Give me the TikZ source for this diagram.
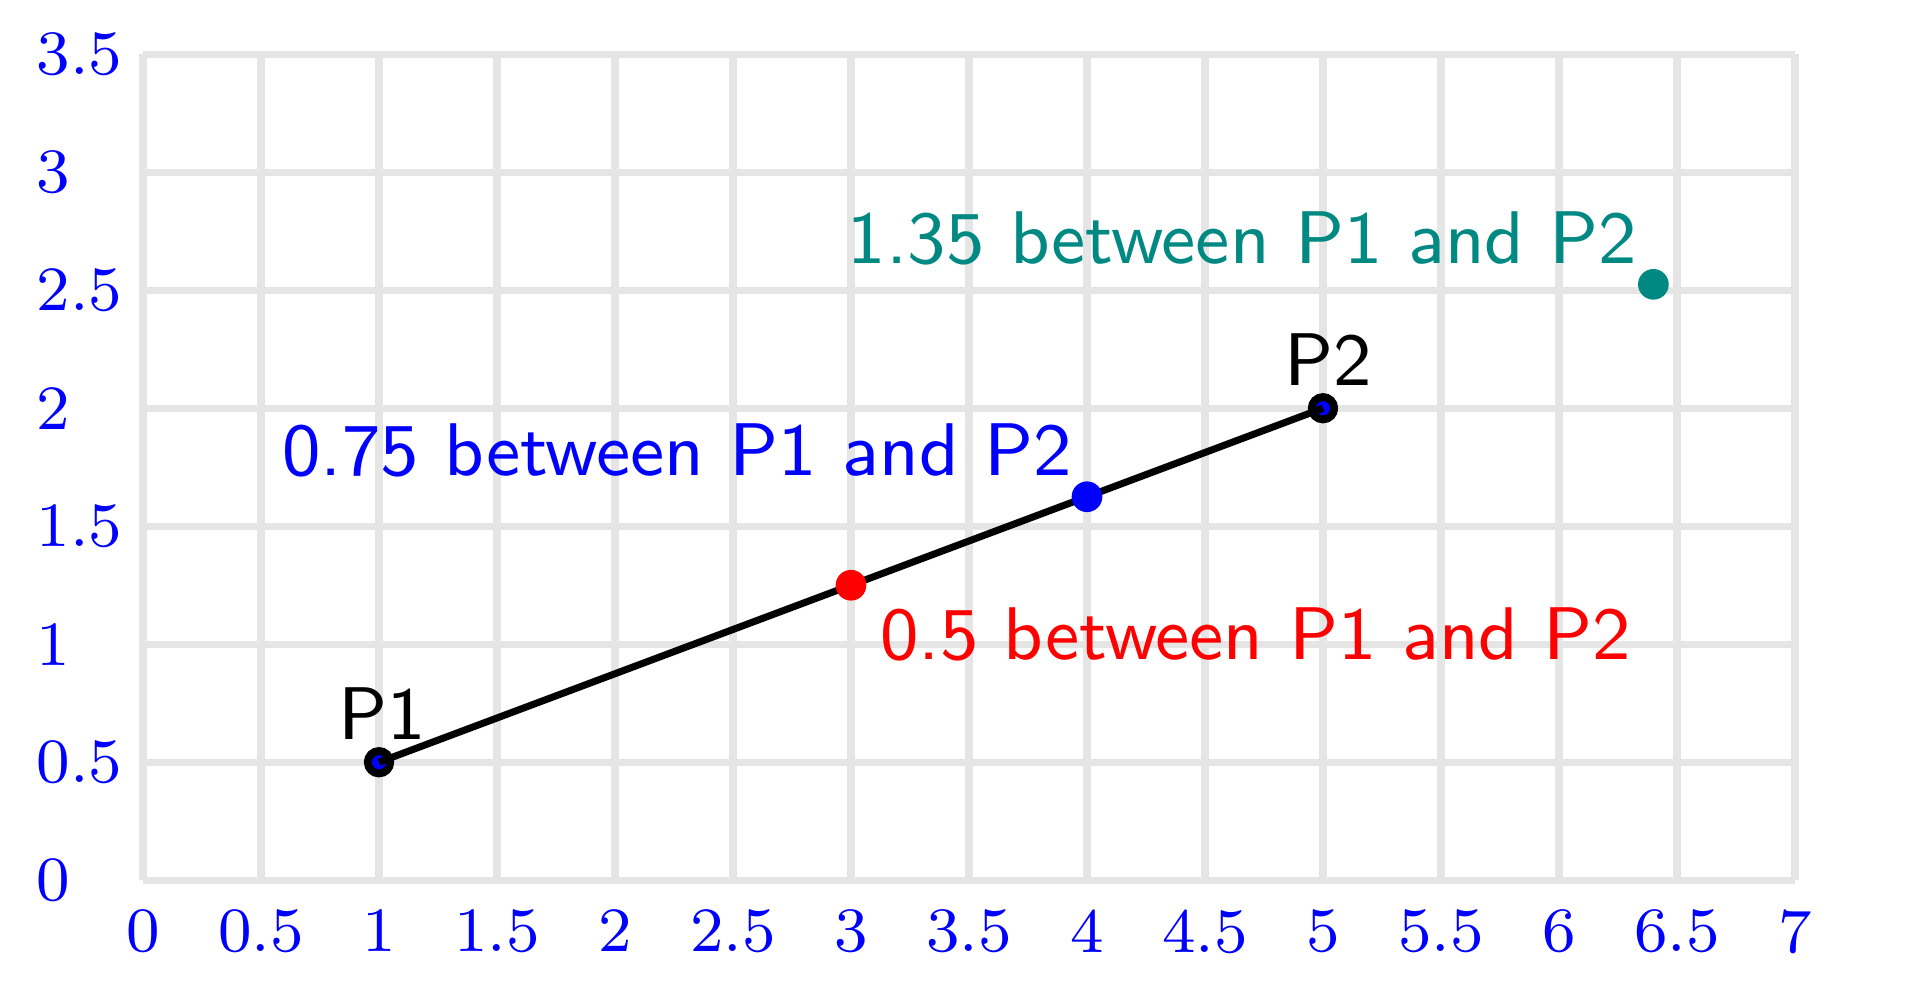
\documentclass[tikz,border=0pt]{standalone}
\usetikzlibrary{calc}
\definecolor{gridgray}{RGB}{229,229,229}
\definecolor{dotteal}{RGB}{0,137,130}
\begin{document}
\begin{tikzpicture}[x=1cm,y=1cm,
  tick/.style={blue,font=\fontsize{7.6}{9}\selectfont},
  lab/.style={font=\small\sffamily},
  pmark/.style={circle,draw=black,fill=blue,line width=0.95pt,inner sep=0pt,minimum size=2.7pt},
  dot/.style={circle,inner sep=0pt,minimum size=3.7pt}]
\useasboundingbox (-0.606,-0.435) rectangle (7.479,3.730);
\draw[gridgray,line width=0.85pt] (0,0) grid[step=0.5] (7,3.5);
\foreach \v [count=\i] in {0,0.5,1,1.5,2,2.5,3,3.5,4,4.5,5,5.5,6,6.5,7}
  \node[tick,below] (xt\i) at (\v,0) {\v};
\foreach \v [count=\i] in {0,0.5,1,1.5,2,2.5,3,3.5}
  \node[tick,anchor=west] (yt\i) at (-0.575,\v) {\v};
\node[pmark] (p1) at (1,0.5) {};
\node[pmark] (p2) at (5,2) {};
\draw[line width=0.85pt] (p1.center) -- (p2.center);
\node[dot,fill=red] (r) at ($(p1.center)!0.5!(p2.center)$) {};
\node[dot,fill=blue] (b) at ($(p1.center)!0.75!(p2.center)$) {};
\node[dot,fill=dotteal] (t) at ($(p1.center)!1.35!(p2.center)$) {};
\node[lab,above,xshift=0.4pt,yshift=-0.75pt] (l1) at (p1.center) {P1};
\node[lab,above,xshift=0.6pt,yshift=-0.75pt] (l2) at (p2.center) {P2};
\node[lab,red,below right,yshift=0.8pt] (lr) at (r.center) {0.5 between P1 and P2};
\node[lab,blue,above left,xshift=1.7pt,yshift=-1.2pt] (lb) at (b.center) {0.75 between P1 and P2};
\node[lab,dotteal,above left,xshift=1.6pt,yshift=-1.2pt] (lt) at (t.center) {1.35 between P1 and P2};
\end{tikzpicture}
\end{document}
